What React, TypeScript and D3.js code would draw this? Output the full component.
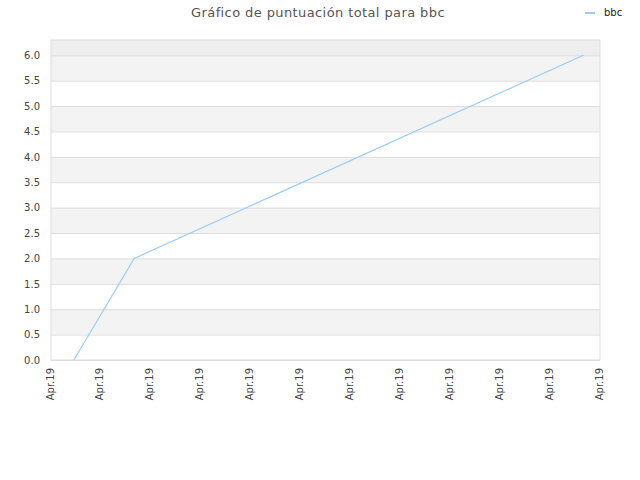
import { useRef, useEffect } from 'react';
import * as d3 from 'd3';

const dates = ['2019-04-01T11:00:00Z', '2019-04-02T16:00:00Z', '2019-04-11T16:00:00Z'];
const scores = [0, 2, 6];
const seriesName = 'bbc';
const yTicks = [0, 0.5, 1, 1.5, 2, 2.5, 3, 3.5, 4, 4.5, 5, 5.5, 6];

export default function App() {
  const svgRef = useRef<SVGSVGElement>(null);

  useEffect(() => {
    if (!svgRef.current) return;
    const svg = d3.select(svgRef.current);
    svg.selectAll('*').remove();

    const width = 640;
    const height = 480;
    const margin = { top: 40, right: 40, bottom: 120, left: 51 };
    const innerW = width - margin.left - margin.right;
    const innerH = height - margin.top - margin.bottom;
    const font = '"DejaVu Sans", sans-serif';

    const points = dates.map((d, i) => ({ x: new Date(d), y: scores[i] }));

    const xScale = d3.scaleUtc()
      .domain([new Date('2019-04-01T00:00:00Z'), new Date('2019-04-12T00:00:00Z')])
      .range([0, innerW]);
    const yScale = d3.scaleLinear().domain([0, 6.3]).range([innerH, 0]);

    const g = svg.append('g').attr('transform', `translate(${margin.left},${margin.top})`);

    // Bands
    const bandEdges = [...yTicks, 6.3];
    for (let i = 0; i < bandEdges.length - 1; i++) {
      const fill = i === bandEdges.length - 2 ? '#eeeeee' : (i % 2 === 1 ? '#f3f3f3' : '#ffffff');
      g.append('rect')
        .attr('x', 0).attr('width', innerW)
        .attr('y', yScale(bandEdges[i + 1]))
        .attr('height', yScale(bandEdges[i]) - yScale(bandEdges[i + 1]))
        .attr('fill', fill);
    }

    // Grid
    g.append('g')
      .call(d3.axisLeft(yScale).tickValues(yTicks).tickSize(-innerW).tickFormat(() => ''))
      .call((a) => { a.selectAll('line').attr('stroke', '#dddddd'); a.select('.domain').remove(); });

    g.append('rect')
      .attr('width', innerW).attr('height', innerH)
      .attr('fill', 'none').attr('stroke', '#dddddd');

    // Line
    const line = d3.line<{ x: Date; y: number }>()
      .x((d) => xScale(d.x))
      .y((d) => yScale(d.y));
    g.append('path')
      .datum(points)
      .attr('d', line)
      .attr('fill', 'none')
      .attr('stroke', '#9ecbf4')
      .attr('stroke-width', 1.2);

    // Y axis
    g.append('g')
      .call(d3.axisLeft(yScale).tickValues(yTicks).tickSize(0).tickPadding(11).tickFormat((d) => Number(d).toFixed(1)))
      .call((a) => {
        a.select('.domain').remove();
        a.selectAll('text').attr('fill', '#444').style('font-size', '10px').style('font-family', font);
      });

    // X axis
    g.append('g')
      .attr('transform', `translate(0,${innerH})`)
      .call(d3.axisBottom(xScale).ticks(d3.utcDay.every(1)).tickSize(0).tickFormat((d) => d3.utcFormat('%b.%y')(d as Date)))
      .call((a) => {
        a.select('.domain').remove();
        a.selectAll('text')
          .attr('fill', '#444')
          .style('font-size', '10px')
          .style('font-family', font)
          .attr('text-anchor', 'end')
          .attr('dy', '0.3em')
          .attr('transform', 'translate(-1,8) rotate(-90)')
          .attr('x', 0).attr('y', 0);
      });

    // Title
    svg.append('text')
      .attr('x', 318).attr('y', 17)
      .attr('text-anchor', 'middle')
      .attr('fill', '#555').style('font-size', '13px').style('font-family', font)
      .style('letter-spacing', '0.4px')
      .text(`Gráfico de puntuación total para ${seriesName}`);

    // Legend
    svg.append('line')
      .attr('x1', 585).attr('x2', 595).attr('y1', 13).attr('y2', 13)
      .attr('stroke', '#9ecbf4').attr('stroke-width', 2);
    svg.append('text')
      .attr('x', 604).attr('y', 16)
      .attr('fill', '#222').style('font-size', '10px').style('font-family', font)
      .text(seriesName);
  }, []);

  return (
    <svg
      ref={svgRef}
      width={640}
      height={480}
      style={{ position: 'absolute', left: 0, top: 0, background: '#fff' }}
    />
  );
}
